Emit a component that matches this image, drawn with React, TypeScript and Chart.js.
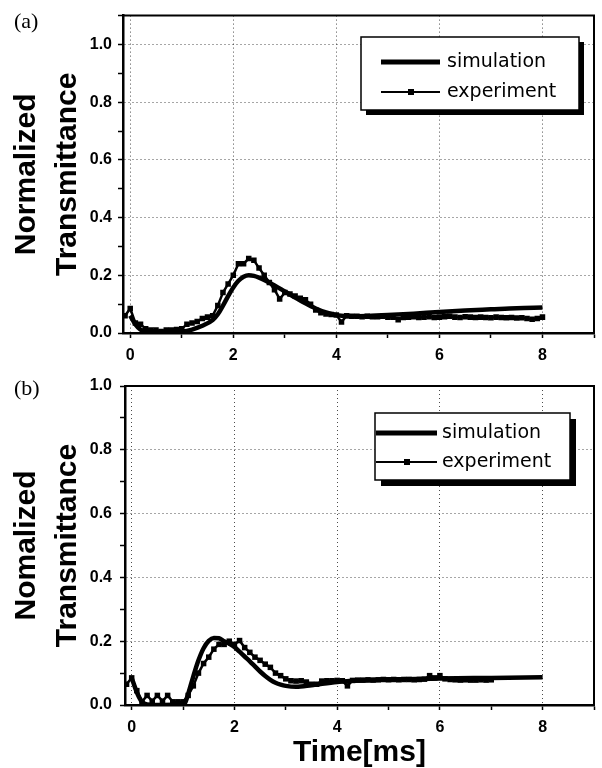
import React, { useEffect, useRef } from 'react';
import { Chart, registerables } from 'chart.js';
Chart.register(...registerables);

// ---------- data ----------
const legendLabels = ['simulation', 'experiment'];
const xTickLabels = [0, 2, 4, 6, 8];
const yTickLabels = ['0.0', '0.2', '0.4', '0.6', '0.8', '1.0'];

// panel (a)
const timeExpA = [-0.1, 0.0, 0.1, 0.2, 0.3, 0.4, 0.5, 0.6, 0.7, 0.8, 0.9, 1.0, 1.1, 1.2, 1.3, 1.4, 1.5, 1.6, 1.7, 1.8, 1.9, 2.0, 2.1, 2.2, 2.3, 2.4, 2.5, 2.6, 2.7, 2.8, 2.9, 3.0, 3.1, 3.2, 3.3, 3.4, 3.5, 3.6, 3.7, 3.8, 3.9, 4.0, 4.1, 4.2, 4.3, 4.4, 4.5, 4.6, 4.7, 4.8, 4.9, 5.0, 5.1, 5.2, 5.3, 5.4, 5.5, 5.6, 5.7, 5.8, 5.9, 6.0, 6.1, 6.2, 6.3, 6.4, 6.5, 6.6, 6.7, 6.8, 6.9, 7.0, 7.1, 7.2, 7.3, 7.4, 7.5, 7.6, 7.7, 7.8, 7.9, 8.0];
const expA = [0.060, 0.085, 0.035, 0.030, 0.015, 0.010, 0.010, 0.005, 0.010, 0.010, 0.012, 0.015, 0.030, 0.035, 0.040, 0.050, 0.055, 0.060, 0.095, 0.140, 0.170, 0.200, 0.240, 0.240, 0.258, 0.252, 0.225, 0.200, 0.175, 0.150, 0.118, 0.140, 0.135, 0.128, 0.120, 0.115, 0.100, 0.080, 0.070, 0.066, 0.064, 0.062, 0.038, 0.060, 0.058, 0.058, 0.056, 0.058, 0.056, 0.056, 0.058, 0.055, 0.055, 0.046, 0.054, 0.055, 0.056, 0.054, 0.055, 0.056, 0.054, 0.055, 0.056, 0.058, 0.055, 0.054, 0.056, 0.055, 0.054, 0.055, 0.054, 0.053, 0.055, 0.054, 0.053, 0.054, 0.052, 0.053, 0.050, 0.048, 0.050, 0.055];
const timeSimA = [0.0, 0.1, 0.2, 0.3, 0.5, 0.8, 1.0, 1.2, 1.4, 1.6, 1.7, 1.8, 1.9, 2.0, 2.1, 2.2, 2.3, 2.4, 2.5, 2.6, 2.8, 3.0, 3.2, 3.4, 3.6, 3.8, 4.0, 4.3, 4.6, 5.0, 5.5, 6.0, 6.5, 7.0, 7.5, 8.0];
const simA = [0.060, 0.030, 0.012, 0.005, 0.001, 0.001, 0.004, 0.012, 0.025, 0.045, 0.065, 0.095, 0.128, 0.158, 0.181, 0.195, 0.200, 0.198, 0.192, 0.184, 0.165, 0.144, 0.123, 0.103, 0.085, 0.071, 0.062, 0.058, 0.059, 0.062, 0.067, 0.073, 0.078, 0.082, 0.086, 0.088];

// panel (b)
const timeExpB = [-0.1, 0.0, 0.1, 0.2, 0.3, 0.4, 0.5, 0.6, 0.7, 0.8, 0.9, 1.0, 1.1, 1.2, 1.3, 1.4, 1.5, 1.6, 1.7, 1.8, 1.9, 2.0, 2.1, 2.2, 2.3, 2.4, 2.5, 2.6, 2.7, 2.8, 2.9, 3.0, 3.1, 3.2, 3.3, 3.4, 3.5, 3.6, 3.7, 3.8, 3.9, 4.0, 4.1, 4.2, 4.3, 4.4, 4.5, 4.6, 4.7, 4.8, 4.9, 5.0, 5.1, 5.2, 5.3, 5.4, 5.5, 5.6, 5.7, 5.8, 5.9, 6.0, 6.1, 6.2, 6.3, 6.4, 6.5, 6.6, 6.7, 6.8, 6.9, 7.0];
const expB = [0.065, 0.085, 0.045, 0.010, 0.030, 0.012, 0.030, 0.012, 0.030, 0.010, 0.010, 0.010, 0.030, 0.060, 0.100, 0.130, 0.150, 0.175, 0.190, 0.190, 0.200, 0.190, 0.202, 0.180, 0.165, 0.150, 0.140, 0.128, 0.118, 0.100, 0.092, 0.082, 0.076, 0.075, 0.076, 0.072, 0.065, 0.065, 0.075, 0.076, 0.076, 0.077, 0.076, 0.060, 0.077, 0.078, 0.078, 0.079, 0.078, 0.079, 0.080, 0.079, 0.080, 0.079, 0.080, 0.080, 0.079, 0.080, 0.081, 0.092, 0.085, 0.092, 0.082, 0.080, 0.079, 0.078, 0.079, 0.078, 0.078, 0.079, 0.078, 0.079];
const timeSimB = [0.0, 0.1, 0.2, 0.3, 0.6, 1.0, 1.05, 1.1, 1.2, 1.3, 1.4, 1.5, 1.6, 1.7, 1.8, 1.9, 2.0, 2.1, 2.2, 2.3, 2.4, 2.5, 2.6, 2.7, 2.8, 2.9, 3.0, 3.2, 3.5, 4.0, 4.5, 5.0, 6.0, 7.0, 8.0];
const simB = [0.085, 0.040, 0.010, 0.002, 0.000, 0.002, 0.010, 0.035, 0.090, 0.140, 0.178, 0.201, 0.210, 0.209, 0.200, 0.192, 0.182, 0.167, 0.152, 0.137, 0.121, 0.105, 0.091, 0.079, 0.070, 0.064, 0.060, 0.057, 0.062, 0.072, 0.077, 0.080, 0.083, 0.085, 0.087];

// ---------- helpers ----------
const toPts = (xs: number[], ys: number[]) => xs.map((x, i) => ({ x, y: ys[i] }));
const DOT = 'rgba(0,0,0,0.7)';
const NONE = 'rgba(0,0,0,0)';
const TICK_FONT = { family: '"Liberation Sans", Arial, sans-serif', size: 16, weight: 'bold' as const };
const TITLE_FONT = { family: '"Liberation Sans", Arial, sans-serif', size: 30, weight: 'bold' as const, lineHeight: 1.37 };

type Panel = {
  letter: string;
  letterY: number;
  yTitle: string[];
  xTitle?: string;
  yMax: number;
  xMin: number;
  padTop: number;
  yAxisW: number;
  xAxisH: number;
  yPad: number;
  expT: number[]; exp: number[]; simT: number[]; sim: number[];
  legend: { bx: number; by: number; bw: number; bh: number; sh: number; sx1: number; sx2: number; mx: number; tx: number; y1: number; y2: number };
};

function makeConfig(p: Panel): any {
  const decor = {
    id: 'decor',
    afterDraw(chart: any) {
      const { ctx, chartArea: ca } = chart;
      ctx.save();
      ctx.strokeStyle = '#000';
      ctx.lineWidth = 2;
      ctx.beginPath();
      ctx.moveTo(ca.left, ca.top);
      ctx.lineTo(ca.right, ca.top);
      ctx.lineTo(ca.right, ca.bottom);
      ctx.stroke();
      // legend
      const L = p.legend;
      ctx.fillStyle = '#000';
      ctx.fillRect(L.bx + L.sh, L.by + L.sh, L.bw, L.bh);
      ctx.fillStyle = '#fff';
      ctx.fillRect(L.bx, L.by, L.bw, L.bh);
      ctx.lineWidth = 1.5;
      ctx.strokeStyle = '#000';
      ctx.strokeRect(L.bx, L.by, L.bw, L.bh);
      const ds = chart.data.datasets;
      ctx.lineWidth = 5;
      ctx.beginPath(); ctx.moveTo(L.sx1, L.y1); ctx.lineTo(L.sx2, L.y1); ctx.stroke();
      ctx.lineWidth = 2;
      ctx.beginPath(); ctx.moveTo(L.sx1, L.y2); ctx.lineTo(L.sx2, L.y2); ctx.stroke();
      ctx.fillStyle = '#000';
      ctx.fillRect(L.mx - 3, L.y2 - 3, 6, 6);
      ctx.font = '19px "DejaVu Sans", sans-serif';
      ctx.textBaseline = 'middle';
      ctx.textAlign = 'left';
      ctx.fillText(ds[0].label, L.tx, L.y1);
      ctx.fillText(ds[1].label, L.tx, L.y2);
      // panel letter
      ctx.font = '22px "Liberation Serif", "Times New Roman", serif';
      ctx.fillText(p.letter, 14, p.letterY);
      ctx.restore();
    },
  };
  return {
    type: 'line',
    data: {
      datasets: [
        {
          label: legendLabels[0],
          data: toPts(p.simT, p.sim),
          borderColor: '#000',
          borderWidth: 4.5,
          pointRadius: 0,
          tension: 0.4,
          cubicInterpolationMode: 'monotone',
        },
        {
          label: legendLabels[1],
          data: toPts(p.expT, p.exp),
          borderColor: '#000',
          borderWidth: 2.5,
          pointStyle: 'rect',
          pointRadius: 3.9,
          pointBorderWidth: 0,
          pointBackgroundColor: '#000',
          tension: 0,
        },
      ],
    },
    options: {
      animation: false,
      responsive: false,
      devicePixelRatio: 1,
      layout: { padding: { left: 0, right: 7, top: p.padTop, bottom: 0 } },
      plugins: { legend: { display: false }, tooltip: { enabled: false } },
      scales: {
        x: {
          type: 'linear',
          min: p.xMin,
          max: 9,
          afterFit: (s: any) => { s.height = p.xAxisH; },
          ticks: {
            stepSize: 1,
            includeBounds: false,
            autoSkip: false,
            maxRotation: 0,
            padding: 8,
            color: '#000',
            font: TICK_FONT,
            callback: (v: number) => (xTickLabels.includes(v) ? String(v) : ''),
          },
          grid: {
            color: (c: any) => (c.tick && Math.round(c.tick.value) % 2 === 0 ? DOT : NONE),
            lineWidth: 1,
            tickColor: '#000',
            tickWidth: 1.5,
            tickLength: 5,
            tickBorderDash: [],
          },
          border: { display: true, color: '#000', width: 2.5, dash: [1, 3] },
          title: p.xTitle
            ? { display: true, text: p.xTitle, color: '#000', font: { ...TITLE_FONT, lineHeight: 1.0 }, padding: { top: 0, bottom: 0 } }
            : { display: false },
        },
        y: {
          min: 0,
          max: p.yMax,
          afterFit: (s: any) => { s.width = p.yAxisW; },
          ticks: {
            stepSize: 0.1,
            autoSkip: false,
            padding: p.yPad,
            color: '#000',
            font: TICK_FONT,
            callback: (v: number) => {
              const k = Math.round(v * 10);
              return k % 2 === 0 && k <= 10 ? yTickLabels[k / 2] : '';
            },
          },
          grid: {
            color: (c: any) => {
              if (!c.tick) return NONE;
              const k = Math.round(c.tick.value * 10);
              return k % 2 === 0 && k > 0 && k <= 10 ? DOT : NONE;
            },
            lineWidth: 1,
            tickColor: '#000',
            tickWidth: 1.5,
            tickLength: 5,
            tickBorderDash: [],
          },
          border: { display: true, color: '#000', width: 2.5, dash: [1, 3] },
          title: { display: true, text: p.yTitle, color: '#000', font: TITLE_FONT, padding: { top: 6, bottom: 0 } },
        },
      },
    },
    plugins: [decor],
  };
}

const panelA: Panel = {
  letter: '(a)', letterY: 22,
  yTitle: ['Normalized', 'Transmittance'],
  yMax: 1.1, xMin: -0.14, padTop: 8, yAxisW: 123, xAxisH: 35, yPad: 6,
  expT: timeExpA, exp: expA, simT: timeSimA, sim: simA,
  legend: { bx: 361, by: 37, bw: 218, bh: 73, sh: 5, sx1: 381, sx2: 440, mx: 411, tx: 447, y1: 62, y2: 92 },
};
const panelB: Panel = {
  letter: '(b)', letterY: 21,
  yTitle: ['Nomalized', 'Transmittance'], xTitle: 'Time[ms]',
  yMax: 1.0, xMin: -0.13, padTop: 18, yAxisW: 125, xAxisH: 63, yPad: 8,
  expT: timeExpB, exp: expB, simT: timeSimB, sim: simB,
  legend: { bx: 375, by: 45, bw: 195, bh: 67, sh: 6, sx1: 376, sx2: 437, mx: 407, tx: 442, y1: 65, y2: 94 },
};

export default function App() {
  const refA = useRef<HTMLCanvasElement>(null);
  const refB = useRef<HTMLCanvasElement>(null);
  useEffect(() => {
    document.body.style.margin = '0';
    const a = new Chart(refA.current as HTMLCanvasElement, makeConfig(panelA));
    const b = new Chart(refB.current as HTMLCanvasElement, makeConfig(panelB));
    return () => { a.destroy(); b.destroy(); };
  }, []);
  return (
    <div style={{ position: 'relative', width: 602, height: 768, background: '#fff' }}>
      <canvas ref={refA} width={602} height={368} style={{ position: 'absolute', left: 0, top: 0, width: 602, height: 368 }} />
      <canvas ref={refB} width={602} height={400} style={{ position: 'absolute', left: 0, top: 368, width: 602, height: 400 }} />
    </div>
  );
}
